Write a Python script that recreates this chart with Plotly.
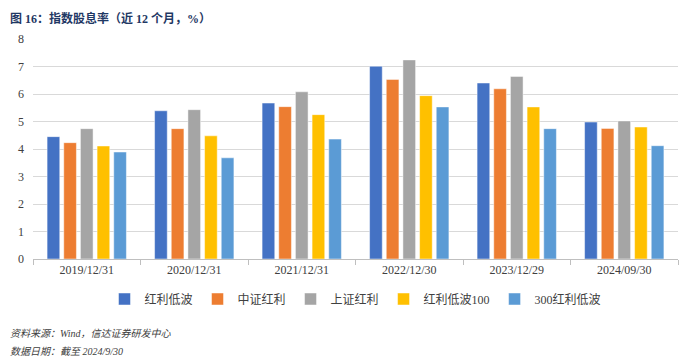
import plotly.graph_objects as go

categories = ["2019/12/31", "2020/12/31", "2021/12/31", "2022/12/30", "2023/12/29", "2024/09/30"]
series_names = ["红利低波", "中证红利", "上证红利", "红利低波100", "300红利低波"]
s_hlhb = [4.45, 5.39, 5.67, 7.01, 6.40, 4.98]
s_zzhl = [4.23, 4.74, 5.54, 6.53, 6.19, 4.75]
s_szhl = [4.74, 5.43, 6.08, 7.24, 6.64, 5.02]
s_hlhb100 = [4.11, 4.48, 5.25, 5.94, 5.53, 4.80]
s_300hlhb = [3.89, 3.68, 4.36, 5.53, 4.74, 4.12]
colors = ["#4472C4", "#ED7D31", "#A5A5A5", "#FFC000", "#5B9BD5"]
y_ticks = [0, 1, 2, 3, 4, 5, 6, 7, 8]

FONT = "Liberation Serif, Times New Roman, Noto Sans CJK SC, serif"
PW, PH = 645, 220
# page has 8px default body margin; figure drawn at (8,8)
fig = go.Figure()
for name, vals, c in zip(series_names, [s_hlhb, s_zzhl, s_szhl, s_hlhb100, s_300hlhb], colors):
    fig.add_trace(go.Bar(x=categories, y=vals, name=name,
                         marker=dict(color=c, line=dict(color="rgba(255,255,255,0.6)", width=0.8))))

fig.update_layout(
    width=692, height=355,
    margin=dict(l=25, r=22, t=31, b=104, autoexpand=False),
    paper_bgcolor="white", plot_bgcolor="white",
    barmode="group", bargap=0.225, bargroupgap=0.24,
    font=dict(family=FONT, size=12, color="#404040"),
    showlegend=True,
    legend=dict(orientation="h", x=0.5, xanchor="center", y=-40/PH, yanchor="middle",
                font=dict(family=FONT, size=12, color="#404040"), itemwidth=30,
                tracegroupgap=0),
    xaxis=dict(type="category", showline=True, linecolor="#BFBFBF", linewidth=1,
               ticks="outside", tickson="boundaries", ticklen=5, tickcolor="#BFBFBF",
               tickfont=dict(family=FONT, size=12, color="#404040"), showgrid=False),
    yaxis=dict(range=[0, 8], tickvals=y_ticks, showgrid=True, gridcolor="#D9D9D9", gridwidth=1,
               zeroline=False, showline=False, ticks="", ticklabelstandoff=8,
               tickfont=dict(family=FONT, size=12, color="#404040")),
)

fig.add_annotation(text="<b>图 16：指数股息率（近 12 个月，%）</b>", xref="paper", yref="paper",
                   x=-25/PW, y=1 + 30/PH, xanchor="left", yanchor="top", showarrow=False,
                   font=dict(family=FONT, size=12, color="#1F3864"))
fig.add_annotation(text="<i>资料来源：Wind，信达证券研发中心</i>", xref="paper", yref="paper",
                   x=-25/PW, y=-(333-259)/PH, xanchor="left", yanchor="middle", showarrow=False,
                   font=dict(family=FONT, size=10, color="#404040"))
fig.add_annotation(text="<i>数据日期：截至 2024/9/30</i>", xref="paper", yref="paper",
                   x=-25/PW, y=-(351-259)/PH, xanchor="left", yanchor="middle", showarrow=False,
                   font=dict(family=FONT, size=10, color="#404040"))

fig.write_html("out.html")
